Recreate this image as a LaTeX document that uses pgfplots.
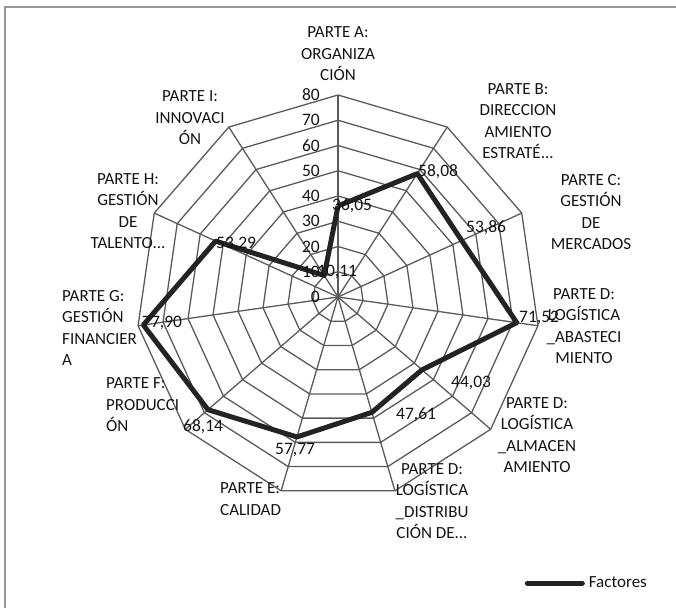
\documentclass[border=0pt]{standalone}
\usepackage{pgfplots}
\pgfplotsset{compat=1.18}
\usepgfplotslibrary{polar}
\usepackage{fontspec}
\setmainfont{Carlito}
\definecolor{gridc}{RGB}{90,90,90}
\definecolor{datac}{RGB}{35,35,35}
\definecolor{txt}{RGB}{20,20,20}
\definecolor{frame}{RGB}{150,150,150}
\begin{document}
\begin{tikzpicture}[x=1pt,y=1pt]
\useasboundingbox (0,0) rectangle (676,607);
\clip (0,0) rectangle (676,607);
\begin{polaraxis}[
  at={(338pt,310pt)}, anchor=origin,
  width=404pt, height=404pt, scale only axis,
  hide axis, ymin=0, ymax=80, xmin=0, xmax=360,
  clip=false,
  legend style={at={(0.962,-0.208)}, anchor=west, draw=none, fill=none,
    font=\fontsize{17}{20}\selectfont\color{txt}, inner sep=0pt},
  legend image code/.code={\draw[line width=5pt, line cap=round, #1] (0pt,0pt) -- (55pt,0pt);},
]
% grid polygons
\pgfplotsinvokeforeach{10,20,30,40,50,60,70,80}{
\addplot[gridc, line width=1.3pt, forget plot] coordinates {(90,#1) (57.2727,#1) (24.5455,#1) (-8.1818,#1) (-40.9091,#1) (-73.6364,#1) (-106.3636,#1) (-139.0909,#1) (-171.8182,#1) (155.4545,#1) (122.7273,#1) (90,#1)};
}
% spokes
\pgfplotsinvokeforeach{90,57.2727,24.5455,-8.1818,-40.9091,-73.6364,-106.3636,-139.0909,-171.8182,155.4545,122.7273}{
\addplot[gridc, line width=1.3pt, forget plot] coordinates {(#1,0) (#1,80)};
}
% data
\addplot[datac, line width=5pt, line join=round] coordinates {
(90,36.05) (57.2727,58.08) (24.5455,53.86) (-8.1818,71.52) (-40.9091,44.03) (-73.6364,47.61) (-106.3636,57.77) (-139.0909,68.14) (-171.8182,77.90) (155.4545,53.29) (122.7273,10.11) (90,36.05)};
\addlegendentry{\hspace{2pt}Factores}
% radial tick labels
\pgfplotsinvokeforeach{0,10,20,30,40,50,60,70,80}{
\node[anchor=east, inner sep=0pt, text=txt, font=\fontsize{17.5}{20}\selectfont] at (axis cs:90,#1) [xshift=-18pt] {#1};
}
\end{polaraxis}
% frame
\draw[frame, line width=2.5pt] (5,-5) -- (5,600) -- (690,600);
% data labels
\tikzset{dl/.style={anchor=west, inner sep=0pt, text=txt, font=\fontsize{17.5}{20}\selectfont}}
\node[dl] at (332,607-206) {36,05};
\node[dl] at (418,607-172) {58,08};
\node[dl] at (466,607-228) {53,86};
\node[dl] at (519,607-318) {71,52};
\node[dl] at (451,607-383) {44,03};
\node[dl] at (396,607-415) {47,61};
\node[dl] at (275,607-450) {57,77};
\node[dl] at (183,607-427) {68,14};
\node[dl] at (142,607-323) {77,90};
\node[dl] at (216,607-244) {53,29};
\node[dl] at (317,607-272) {10,11};
% category labels
\tikzset{cl/.style={inner sep=0pt, text=txt, font=\fontsize{17}{21.5}\selectfont}}
\node[cl, align=center] at (338,607-54) {PARTE A:\\ORGANIZA\\CIÓN};
\node[cl, align=center] at (518,607-121) {PARTE B:\\DIRECCION\\AMIENTO\\ESTRATÉ...};
\node[cl, align=center] at (591,607-212) {PARTE C:\\GESTIÓN\\DE\\MERCADOS};
\node[cl, align=center] at (584,607-326) {PARTE D:\\LOGÍSTICA\\\_ABASTECI\\MIENTO};
\node[cl, align=center] at (537,607-435) {PARTE D:\\LOGÍSTICA\\\_ALMACEN\\AMIENTO};
\node[cl, align=center] at (432,607-501) {PARTE D:\\LOGÍSTICA\\\_DISTRIBU\\CIÓN DE...};
\node[cl, align=left, anchor=west] at (220,607-499) {PARTE E:\\CALIDAD};
\node[cl, align=left, anchor=west] at (106,607-405) {PARTE F:\\PRODUCCI\\ÓN};
\node[cl, align=left, anchor=west] at (62,607-328) {PARTE G:\\GESTIÓN\\FINANCIER\\A};
\node[cl, align=center] at (128,607-211) {PARTE H:\\GESTIÓN\\DE\\TALENTO...};
\node[cl, align=center] at (190,607-118) {PARTE I:\\INNOVACI\\ÓN};
\end{tikzpicture}
\end{document}
